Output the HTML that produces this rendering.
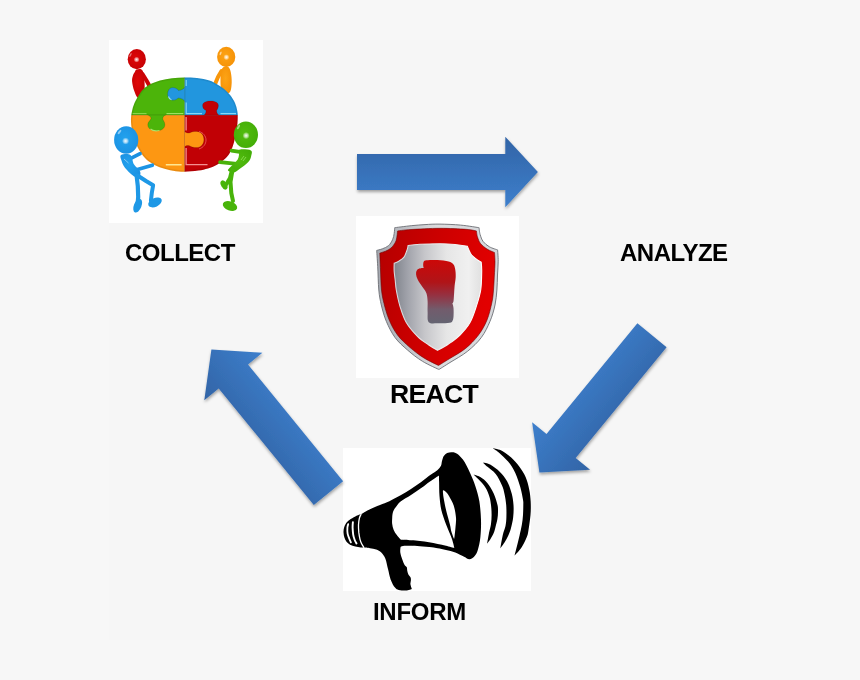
<!DOCTYPE html>
<html><head><meta charset="utf-8">
<style>
html,body{margin:0;padding:0;}
body{width:860px;height:680px;background:#f7f7f7;position:relative;overflow:hidden;font-family:"Liberation Sans",sans-serif;}
.box{position:absolute;background:#fff;}
.lbl{position:absolute;will-change:transform;font-weight:bold;color:#000;font-size:24px;line-height:1;white-space:nowrap;}
svg{position:absolute;left:0;top:0;}
</style></head><body>
<div style="position:absolute;left:109px;top:40px;width:641px;height:600px;background:#f6f6f6;"></div>
<div class="box" style="left:109px;top:40px;width:154px;height:183px;"></div>
<div class="box" style="left:356px;top:216px;width:163px;height:162px;"></div>
<div class="box" style="left:343px;top:448px;width:188px;height:143px;"></div>
<div class="lbl" style="left:125px;top:241px;letter-spacing:-0.5px;">COLLECT</div>
<div class="lbl" style="left:619.5px;top:241px;letter-spacing:-0.5px;">ANALYZE</div>
<div class="lbl" style="left:389.5px;top:380.5px;font-size:26.6px;letter-spacing:-0.7px;">REACT</div>
<div class="lbl" style="left:373px;top:600px;letter-spacing:-0.3px;">INFORM</div>
<svg width="860" height="680" viewBox="0 0 860 680">
<defs>
<filter id="sh" x="-20%" y="-20%" width="140%" height="140%"><feDropShadow dx="0.5" dy="2" stdDeviation="1.6" flood-color="#000" flood-opacity="0.35"/></filter>
<linearGradient id="g1" gradientUnits="userSpaceOnUse" x1="505.3" y1="136.7" x2="505.3" y2="207.3"><stop offset="0" stop-color="#3264a6"/><stop offset="1" stop-color="#3d7fcc"/></linearGradient>
<linearGradient id="g2" gradientUnits="userSpaceOnUse" x1="590.1" y1="469.8" x2="532.1" y2="422.2"><stop offset="0" stop-color="#3264a6"/><stop offset="1" stop-color="#3d7fcc"/></linearGradient>
<linearGradient id="g3" gradientUnits="userSpaceOnUse" x1="204.3" y1="400.2" x2="262.4" y2="352.8"><stop offset="0" stop-color="#3264a6"/><stop offset="1" stop-color="#3d7fcc"/></linearGradient>
</defs>
<polygon points="357.0,154.0 505.3,154.0 505.3,136.7 537.9,172.0 505.3,207.3 505.3,190.0 357.0,190.0" fill="url(#g1)" filter="url(#sh)"/>
<polygon points="666.6,347.2 575.7,458.0 590.1,469.8 539.4,472.5 532.1,422.2 546.5,434.0 637.4,323.2" fill="url(#g2)" filter="url(#sh)"/>
<polygon points="313.8,505.0 218.7,388.4 204.3,400.2 211.4,349.6 262.4,352.8 248.0,364.5 343.1,481.2" fill="url(#g3)" filter="url(#sh)"/>
<g id="mega">
<path d="M361.2,514.1C361.2,514.1 366.0,511.2 369.1,509.7C372.2,508.2 376.6,506.4 380.0,505.0C383.4,503.6 386.0,502.8 389.4,501.2C392.8,499.6 397.0,497.3 400.6,495.3C404.2,493.3 407.6,491.2 411.0,489.0C414.4,486.8 417.9,484.3 421.2,481.9C424.5,479.5 428.3,476.4 431.0,474.5C433.7,472.6 435.6,471.8 437.3,470.3C439.0,468.8 440.2,467.2 441.0,465.7C441.8,464.1 441.5,462.6 442.0,461.0C442.5,459.4 442.9,457.2 443.8,455.9C444.7,454.6 445.9,453.7 447.1,453.1C448.4,452.5 450.0,452.3 451.3,452.2C452.6,452.1 453.7,452.2 455.0,452.7C456.3,453.2 457.9,454.2 459.2,455.4C460.5,456.5 461.7,457.9 462.9,459.6C464.1,461.3 465.4,463.4 466.6,465.7C467.8,468.0 468.9,470.2 470.3,473.6C471.8,477.0 473.8,481.4 475.3,486.0C476.8,490.6 478.4,495.8 479.4,501.5C480.3,507.2 480.8,514.1 481.0,520.0C481.2,525.9 480.9,532.1 480.4,537.1C479.9,542.1 478.8,546.9 477.8,550.0C476.9,553.1 476.1,554.4 474.7,555.9C473.3,557.4 471.2,559.1 469.4,559.3C467.6,559.4 466.5,557.9 464.1,556.8C461.8,555.6 458.3,553.5 455.3,552.4C452.3,551.2 448.9,550.6 446.0,549.9C443.1,549.2 440.1,548.6 437.7,548.2C435.3,547.8 434.8,547.6 431.8,547.3C428.9,547.0 423.6,546.5 420.0,546.2C416.4,546.0 412.8,545.8 410.0,545.8C407.2,545.8 404.6,545.8 403.0,546.0C401.4,546.2 400.6,547.0 400.6,547.0C400.6,547.0 400.0,550.3 400.3,552.4C400.6,554.5 401.7,557.6 402.4,559.7C403.1,561.8 403.9,563.6 404.6,564.9C405.3,566.2 406.4,566.3 406.8,567.3C407.2,568.3 407.0,569.8 407.3,571.0C407.6,572.2 407.8,573.3 408.4,574.4C408.9,575.5 410.2,576.5 410.6,577.5C411.0,578.5 410.9,579.4 410.9,580.5C410.9,581.6 410.3,582.9 410.4,584.0C410.5,585.1 411.1,586.5 411.3,587.4C411.6,588.2 411.9,589.1 411.9,589.1C411.9,589.1 408.2,590.5 406.0,590.6C403.8,590.7 400.5,590.4 398.7,589.9C396.9,589.4 396.4,589.4 395.0,587.6C393.6,585.9 391.8,582.5 390.6,579.4C389.4,576.3 388.9,572.5 388.0,569.1C387.1,565.7 386.5,561.6 385.4,558.8C384.3,556.0 382.8,554.0 381.3,552.5C379.8,551.0 378.1,550.3 376.2,549.6C374.3,548.9 372.0,548.5 370.0,548.2C368.0,547.9 364.1,547.6 364.1,547.6C364.1,547.6 362.1,547.6 360.6,547.4C359.1,547.2 357.1,547.0 355.3,546.5C353.5,546.0 351.5,545.5 350.0,544.7C348.5,543.9 347.4,543.0 346.5,541.8C345.6,540.6 344.9,539.2 344.4,537.6C343.9,536.0 343.6,534.1 343.5,532.4C343.4,530.7 343.7,529.1 344.1,527.6C344.5,526.1 345.0,524.8 345.9,523.5C346.8,522.2 347.8,521.2 349.4,520.0C351.0,518.8 353.3,517.5 355.3,516.5C357.3,515.5 361.2,514.1 361.2,514.1Z" fill="#000"/>
<path d="M400.9,539.8C400.9,539.8 398.0,536.7 396.8,535.1C395.6,533.5 394.5,531.9 393.7,530.0C392.9,528.1 392.4,526.0 392.2,524.0C391.9,522.0 392.1,520.0 392.2,518.0C392.3,516.0 392.4,513.8 393.0,512.0C393.6,510.2 394.2,509.2 395.5,507.5C396.8,505.8 398.0,503.6 400.6,501.5C403.2,499.4 407.6,497.2 411.0,495.0C414.4,492.8 418.0,490.4 421.2,488.1C424.4,485.9 427.0,483.6 430.0,481.5C433.0,479.4 439.0,475.5 439.0,475.5C439.0,475.5 439.0,478.6 439.1,482.0C439.2,485.4 439.1,491.3 439.5,496.0C439.9,500.7 440.3,505.5 441.4,510.2C442.5,514.9 444.4,519.7 446.1,524.4C447.8,529.1 450.4,534.5 451.8,538.5C453.2,542.5 454.4,548.2 454.4,548.2C454.4,548.2 448.8,546.5 446.0,545.8C443.2,545.1 440.5,544.6 437.7,544.0C434.9,543.4 431.9,542.7 429.0,542.2C426.1,541.7 423.0,541.2 420.0,540.9C417.0,540.6 414.4,540.5 411.2,540.3C408.0,540.1 400.9,539.8 400.9,539.8Z" fill="#fff"/>
<path d="M443.3,490.3C443.9,490.2 445.6,491.5 446.5,492.5C447.4,493.5 447.8,493.9 449.0,496.1C450.2,498.3 452.5,501.9 453.7,505.5C454.9,509.1 455.7,514.2 456.0,517.8C456.3,521.4 455.7,524.2 455.5,527.2C455.3,530.2 454.8,534.0 454.6,536.0C454.4,538.0 454.1,539.0 454.1,539.0C454.1,539.0 452.2,534.4 451.5,532.0C450.8,529.6 450.8,528.0 449.9,524.4C449.0,520.8 447.1,514.4 446.1,510.2C445.1,506.0 444.3,501.9 443.8,499.0C443.3,496.1 443.1,494.4 443.0,493.0C442.9,491.6 442.7,490.4 443.3,490.3Z" fill="#fff"/>
<path d="M473.6,474.5C473.6,474.5 478.0,475.7 480.3,477.1C482.6,478.6 485.3,480.5 487.5,483.2C489.7,485.9 492.0,489.9 493.7,493.5C495.4,497.1 496.8,501.9 497.5,505.0C498.2,508.1 498.0,509.7 498.0,512.0C498.0,514.3 497.8,516.5 497.4,519.0C497.0,521.5 496.1,524.6 495.5,527.0C494.9,529.4 494.5,531.1 493.7,533.1C492.9,535.1 491.6,537.2 490.5,539.0C489.4,540.8 487.1,543.7 487.1,543.7C487.1,543.7 488.4,536.4 489.0,533.1C489.6,529.8 490.6,527.0 491.0,524.0C491.4,521.0 491.6,518.2 491.6,515.0C491.6,511.8 491.4,508.0 491.0,505.0C490.6,502.0 490.4,499.9 489.5,497.0C488.6,494.1 487.3,490.4 485.4,487.4C483.5,484.4 480.2,481.2 478.2,479.1C476.2,477.0 473.6,474.5 473.6,474.5Z" fill="#000"/>
<path d="M482.9,462.4C482.9,462.4 487.8,463.1 490.6,464.7C493.4,466.3 497.1,469.1 499.9,471.9C502.6,474.6 505.1,477.6 507.1,481.2C509.1,484.8 510.6,489.5 511.7,493.5C512.8,497.5 513.2,501.1 513.5,505.0C513.8,508.9 513.6,513.2 513.2,517.0C512.8,520.8 511.8,524.9 511.0,528.0C510.2,531.1 509.3,533.3 508.2,535.7C507.1,538.1 505.8,540.4 504.5,542.5C503.2,544.6 500.3,548.3 500.3,548.3C500.3,548.3 502.0,538.1 502.9,534.4C503.8,530.7 504.9,528.9 505.5,526.0C506.1,523.1 506.3,520.5 506.4,517.0C506.5,513.5 506.5,508.8 506.2,505.0C505.9,501.2 505.2,497.3 504.5,494.0C503.8,490.7 503.4,488.6 501.9,485.3C500.4,482.0 498.1,477.1 495.7,474.0C493.3,470.9 489.6,468.7 487.5,466.8C485.4,464.9 482.9,462.4 482.9,462.4Z" fill="#000"/>
<path d="M492.6,448.2C492.6,448.2 497.8,448.8 500.9,450.3C504.0,451.9 508.1,454.8 511.2,457.5C514.3,460.2 517.0,463.5 519.4,466.8C521.8,470.1 524.0,473.3 525.6,477.1C527.2,480.9 528.4,485.3 529.2,489.4C530.1,493.5 530.5,497.5 530.7,501.8C530.9,506.1 530.9,510.3 530.5,515.0C530.1,519.7 529.1,526.3 528.5,530.0C527.9,533.7 528.0,534.2 526.8,537.1C525.6,540.0 523.5,544.5 521.5,547.6C519.5,550.7 514.5,555.6 514.5,555.6C514.5,555.6 515.4,552.3 516.2,549.0C517.0,545.7 518.6,539.7 519.5,535.7C520.4,531.7 521.2,528.5 521.8,525.0C522.4,521.5 522.8,518.3 523.0,515.0C523.2,511.7 523.3,507.6 523.3,505.0C523.3,502.4 523.5,502.6 523.0,499.7C522.5,496.8 521.7,491.9 520.4,487.4C519.1,482.9 517.3,477.2 515.3,472.9C513.2,468.6 510.9,465.0 508.1,461.6C505.4,458.2 501.4,454.6 498.8,452.4C496.2,450.2 492.6,448.2 492.6,448.2Z" fill="#000"/>
<path d="M361.0,514.5C360.7,515.1 359.8,516.5 359.4,518.2C359.0,519.9 358.6,522.3 358.5,524.7C358.4,527.1 358.6,530.0 358.8,532.4C359.1,534.8 359.5,537.4 360.0,539.4C360.5,541.4 361.2,542.8 361.8,544.1C362.4,545.4 363.5,546.8 363.8,547.3" fill="none" stroke="#fff" stroke-width="1.3" stroke-linecap="round"/>
<path d="M348.2,524.1C348.1,524.7 347.5,526.0 347.4,527.6C347.3,529.2 347.3,531.7 347.6,533.5C347.9,535.3 348.6,536.7 349.1,538.2C349.7,539.7 350.6,541.7 350.9,542.4" fill="none" stroke="#fff" stroke-width="1.8" stroke-linecap="round"/>
<path d="M352.9,522.1C352.8,523.0 352.6,525.5 352.6,527.6C352.7,529.7 352.9,532.6 353.2,534.7C353.5,536.8 354.1,538.5 354.7,540.0C355.2,541.5 356.2,542.9 356.5,543.5" fill="none" stroke="#fff" stroke-width="1.9" stroke-linecap="round"/>
</g>
<g id="puzzle">
<defs>
<clipPath id="dclip"><path d="M184.5,77.5C188.7,77.5 192.8,77.5 197.0,78.0C201.2,78.5 206.1,79.5 209.4,80.5C212.7,81.5 214.4,82.7 217.0,84.2C219.6,85.7 222.4,87.5 224.7,89.4C226.9,91.3 228.8,93.2 230.5,95.5C232.2,97.8 233.9,100.4 235.0,103.0C236.1,105.6 236.9,108.3 237.3,111.0C237.8,113.7 237.8,116.2 237.7,119.0C237.6,121.8 237.4,124.8 237.0,128.0C236.6,131.2 235.8,134.8 235.0,138.0C234.2,141.2 233.6,144.2 232.5,147.0C231.4,149.8 230.1,152.8 228.5,155.0C226.9,157.2 225.0,158.8 223.0,160.5C221.0,162.2 219.0,163.7 216.5,165.0C214.0,166.3 211.0,167.6 208.0,168.5C205.0,169.4 202.3,170.0 198.3,170.6C194.3,171.2 188.4,171.8 184.2,171.8C180.0,171.8 176.7,171.4 173.0,170.8C169.3,170.2 165.3,169.1 162.0,168.0C158.7,166.9 155.8,165.7 153.0,164.0C150.2,162.3 147.6,160.8 145.0,158.0C142.4,155.2 139.5,150.8 137.5,147.0C135.5,143.2 134.1,139.2 133.0,135.0C131.9,130.8 131.2,125.8 131.0,122.0C130.8,118.2 131.2,115.2 131.8,112.0C132.4,108.8 133.3,105.8 134.5,103.0C135.7,100.2 137.4,97.5 138.8,95.3C140.2,93.0 141.2,91.3 143.0,89.5C144.8,87.7 146.6,86.2 149.4,84.7C152.2,83.2 156.2,81.6 160.0,80.5C163.8,79.4 167.9,78.7 172.0,78.2C176.1,77.7 180.3,77.5 184.5,77.5Z"/></clipPath>
<radialGradient id="pR" cx="0.45" cy="0.45" r="0.7"><stop offset="0" stop-color="#e00808"/><stop offset="1" stop-color="#c00004"/></radialGradient>
<radialGradient id="pO" cx="0.45" cy="0.45" r="0.7"><stop offset="0" stop-color="#fda416"/><stop offset="1" stop-color="#f48e04"/></radialGradient>
<radialGradient id="pB" cx="0.45" cy="0.45" r="0.7"><stop offset="0" stop-color="#22a2ee"/><stop offset="1" stop-color="#1a8ee0"/></radialGradient>
<radialGradient id="pG" cx="0.45" cy="0.45" r="0.7"><stop offset="0" stop-color="#52bc0e"/><stop offset="1" stop-color="#40aa06"/></radialGradient>
<radialGradient id="hl"><stop offset="0" stop-color="#fff" stop-opacity="0.95"/><stop offset="0.5" stop-color="#fff" stop-opacity="0.6"/><stop offset="1" stop-color="#fff" stop-opacity="0"/></radialGradient>
</defs>
<path d="M142.5,74 L146.5,80.5 L149.8,86.5" fill="none" stroke="#cc0406" stroke-width="4" stroke-linecap="round" stroke-linejoin="round"/>
<path d="M136.5,69.5C137.6,69.1 140.3,68.8 141.5,69.5C142.7,70.2 143.1,71.8 143.6,73.5C144.1,75.2 144.3,77.2 144.4,80.0C144.5,82.8 145.0,87.2 144.4,90.0C143.8,92.8 142.2,95.8 141.0,97.0C139.8,98.2 138.6,98.6 137.4,97.5C136.2,96.4 134.9,93.0 134.0,90.3C133.1,87.6 132.3,83.8 132.1,81.4C131.9,79.0 132.4,77.3 132.9,75.7C133.4,74.1 134.2,73.0 134.8,72.0C135.4,71.0 135.4,69.9 136.5,69.5Z" fill="url(#pR)"/>
<ellipse cx="136.8" cy="59.2" rx="9.1" ry="10.1" fill="url(#pR)"/>
<circle cx="136.6" cy="59.6" r="3" fill="url(#hl)"/>
<ellipse cx="130.5" cy="55" rx="0.8" ry="2.2" fill="#fff" opacity="0.45" transform="rotate(25 130.5 55)"/>
<path d="M221.5,71 L218,77 L215.5,83" fill="none" stroke="#f8960a" stroke-width="4" stroke-linecap="round" stroke-linejoin="round"/>
<path d="M223.6,67.0C224.8,66.3 227.2,66.0 228.4,67.0C229.6,68.0 230.4,70.1 230.9,72.7C231.4,75.3 231.8,79.2 231.7,82.4C231.5,85.6 231.3,90.2 230.0,92.0C228.7,93.8 225.5,93.7 224.0,93.0C222.5,92.3 221.6,90.5 221.0,88.0C220.4,85.5 220.5,80.8 220.5,78.0C220.5,75.2 220.7,72.8 221.2,71.0C221.7,69.2 222.4,67.7 223.6,67.0Z" fill="url(#pO)"/>
<ellipse cx="226.2" cy="56.9" rx="9.1" ry="10.1" fill="url(#pO)"/>
<circle cx="226.4" cy="57.2" r="3" fill="url(#hl)"/>
<ellipse cx="220.6" cy="53.3" rx="0.8" ry="2" fill="#fff" opacity="0.6" transform="rotate(20 220.6 53.3)"/>
<g clip-path="url(#dclip)">
<rect x="125" y="70" width="59.69999999999999" height="45.099999999999994" fill="#4cb40a"/>
<rect x="184.7" y="70" width="65.30000000000001" height="45.099999999999994" fill="#2296de"/>
<rect x="125" y="115.1" width="59.69999999999999" height="69.9" fill="#fd9712"/>
<rect x="184.7" y="115.1" width="65.30000000000001" height="69.9" fill="#c10005"/>
<path d="M184.9,86.5 C184.5,89 181,90.3 178.5,90.5 C177,88.5 175,87.6 172.6,87.6 C169.5,87.6 167.6,91 167.6,94.2 C167.6,97.5 169.8,100.2 172.8,100.2 C175,100.2 177,99.3 178.2,97.9 C181,98.2 184.5,99.5 184.9,102 Z" fill="#2296de"/>
<path d="M203.5,115.3 C205.5,114.5 206,112.5 206,110.5 C203.5,109.5 202.6,107.5 202.6,105.5 C202.6,102.5 206,101 210.5,101 C215,101 218.4,102.5 218.4,105.5 C218.4,107.5 217.5,109.5 216.6,110.5 C216.6,112.5 217.5,114.5 219.3,115.3 Z" fill="#c10005"/>
<path d="M147.2,114.9 C149.5,115.5 151,116.5 151,118.6 C151,120 147.8,121.5 147.8,124.8 C147.8,128.5 151.5,130.9 156.3,130.9 C161.1,130.9 164.9,128.5 164.9,124.8 C164.9,121.5 162.5,120 162.8,118.6 C163,116.5 164,115.5 166.3,114.9 Z" fill="#4cb40a"/>
<path d="M184.5,131.5 C186.5,133 188.5,133.5 190,132.8 C191.5,131.8 193.5,131.4 196.5,131.4 C201,131.4 203.9,135 203.9,139.5 C203.9,144 201,147.6 196.5,147.6 C193.5,147.6 191.2,147 189.5,145.8 C187.5,145.3 186,145.5 184.5,147 Z" fill="#fd9712"/>
<path d="M184.7,77 L184.7,86.5 M184.7,102 L184.7,131.5 M184.7,147 L184.7,173 M130,115.1 L147.2,115.1 M166.3,115.1 L203.5,115.1 M219.3,115.1 L240,115.1" stroke="#000" stroke-opacity="0.25" stroke-width="0.8" fill="none"/>
<path d="M184.9,86.5 C184.5,89 181,90.3 178.5,90.5 C177,88.5 175,87.6 172.6,87.6 C169.5,87.6 167.6,91 167.6,94.2 C167.6,97.5 169.8,100.2 172.8,100.2 C175,100.2 177,99.3 178.2,97.9 C181,98.2 184.5,99.5 184.9,102 Z" stroke="#000" stroke-opacity="0.2" stroke-width="0.7" fill="none"/>
<path d="M203.5,115.3 C205.5,114.5 206,112.5 206,110.5 C203.5,109.5 202.6,107.5 202.6,105.5 C202.6,102.5 206,101 210.5,101 C215,101 218.4,102.5 218.4,105.5 C218.4,107.5 217.5,109.5 216.6,110.5 C216.6,112.5 217.5,114.5 219.3,115.3 Z" stroke="#000" stroke-opacity="0.2" stroke-width="0.7" fill="none"/>
<path d="M147.2,114.9 C149.5,115.5 151,116.5 151,118.6 C151,120 147.8,121.5 147.8,124.8 C147.8,128.5 151.5,130.9 156.3,130.9 C161.1,130.9 164.9,128.5 164.9,124.8 C164.9,121.5 162.5,120 162.8,118.6 C163,116.5 164,115.5 166.3,114.9 Z" stroke="#000" stroke-opacity="0.2" stroke-width="0.7" fill="none"/>
<path d="M184.5,131.5 C186.5,133 188.5,133.5 190,132.8 C191.5,131.8 193.5,131.4 196.5,131.4 C201,131.4 203.9,135 203.9,139.5 C203.9,144 201,147.6 196.5,147.6 C193.5,147.6 191.2,147 189.5,145.8 C187.5,145.3 186,145.5 184.5,147 Z" stroke="#000" stroke-opacity="0.2" stroke-width="0.7" fill="none"/>
<path d="M166.5,113.6 L183.3,113.6" stroke="#b8f080" stroke-width="1.1" opacity="0.8"/>
<path d="M132.5,113.6 L146.5,113.6" stroke="#b8f080" stroke-width="1.1" opacity="0.6"/>
<path d="M186.2,80 L186.2,86 M186.2,102.5 L186.2,113.6 L202,113.6 M220.5,113.6 L236,113.6" stroke="#a8ecff" stroke-width="1.1" opacity="0.75" fill="none"/>
<path d="M186.1,117 L186.1,130.5 M186.1,148 L186.1,164.7 L207.5,164.7" fill="none" stroke="#ffb4b4" stroke-width="1.3" opacity="0.8"/>
<path d="M165.8,164.7 L181.6,164.7" fill="none" stroke="#fff0a0" stroke-width="1.5" opacity="0.9"/>
<path d="M199,131.5 C203,132.5 206,136 206,140 C206,144 203.5,147.5 199,149" fill="none" stroke="#ff9090" stroke-width="0.9" opacity="0.6"/>
<path d="M150.5,129 C152.5,130.8 156,131.2 159.5,130.5" fill="none" stroke="#c8ff90" stroke-width="1.1" opacity="0.7"/>
<path d="M168.5,96.5 C169,98.5 170,99.5 171.5,99.8" fill="none" stroke="#b0f4ff" stroke-width="1.1" opacity="0.8"/>
<path d="M184.5,77.5C188.7,77.5 192.8,77.5 197.0,78.0C201.2,78.5 206.1,79.5 209.4,80.5C212.7,81.5 214.4,82.7 217.0,84.2C219.6,85.7 222.4,87.5 224.7,89.4C226.9,91.3 228.8,93.2 230.5,95.5C232.2,97.8 233.9,100.4 235.0,103.0C236.1,105.6 236.9,108.3 237.3,111.0C237.8,113.7 237.8,116.2 237.7,119.0C237.6,121.8 237.4,124.8 237.0,128.0C236.6,131.2 235.8,134.8 235.0,138.0C234.2,141.2 233.6,144.2 232.5,147.0C231.4,149.8 230.1,152.8 228.5,155.0C226.9,157.2 225.0,158.8 223.0,160.5C221.0,162.2 219.0,163.7 216.5,165.0C214.0,166.3 211.0,167.6 208.0,168.5C205.0,169.4 202.3,170.0 198.3,170.6C194.3,171.2 188.4,171.8 184.2,171.8C180.0,171.8 176.7,171.4 173.0,170.8C169.3,170.2 165.3,169.1 162.0,168.0C158.7,166.9 155.8,165.7 153.0,164.0C150.2,162.3 147.6,160.8 145.0,158.0C142.4,155.2 139.5,150.8 137.5,147.0C135.5,143.2 134.1,139.2 133.0,135.0C131.9,130.8 131.2,125.8 131.0,122.0C130.8,118.2 131.2,115.2 131.8,112.0C132.4,108.8 133.3,105.8 134.5,103.0C135.7,100.2 137.4,97.5 138.8,95.3C140.2,93.0 141.2,91.3 143.0,89.5C144.8,87.7 146.6,86.2 149.4,84.7C152.2,83.2 156.2,81.6 160.0,80.5C163.8,79.4 167.9,78.7 172.0,78.2C176.1,77.7 180.3,77.5 184.5,77.5Z" fill="none" stroke="#000" stroke-opacity="0.08" stroke-width="3"/>
</g>
<path d="M131.3,158.2 L140.1,153.7" stroke="#1c90e0" stroke-width="3.6" stroke-linecap="round"/>
<path d="M137.5,169.6 L152.4,165.2" stroke="#1c94e4" stroke-width="3.6" stroke-linecap="round"/>
<path d="M121.1,155.0C122.6,154.2 128.3,153.4 130.4,155.0C132.5,156.6 132.3,161.6 133.9,164.3C135.5,167.0 139.2,169.4 140.1,171.4C141.0,173.4 140.1,175.6 139.2,176.5C138.3,177.4 137.2,178.1 134.8,176.7C132.5,175.3 127.3,170.7 125.1,167.9C122.8,165.1 122.0,162.2 121.3,160.0C120.6,157.8 119.6,155.8 121.1,155.0Z" fill="url(#pB)"/>
<path d="M136.6,175.5 L137.8,186 L138.2,197 L137.5,205" fill="none" stroke="#1e98e6" stroke-width="4.2" stroke-linecap="round" stroke-linejoin="round"/>
<path d="M137.5,175.5 L146,181 L153.1,185.3 L151.8,193 L150.9,200.8" fill="none" stroke="#1e98e6" stroke-width="4" stroke-linecap="round" stroke-linejoin="round"/>
<ellipse cx="137.7" cy="205.7" rx="3.8" ry="7.2" fill="#1e98e6" transform="rotate(22 137.7 205.7)"/>
<ellipse cx="155" cy="202.4" rx="7.2" ry="4.4" fill="#1e98e6" transform="rotate(-25 155 202.4)"/>
<ellipse cx="126.2" cy="140" rx="12.1" ry="13.7" fill="url(#pB)"/>
<circle cx="125.6" cy="141" r="3.6" fill="url(#hl)"/>
<ellipse cx="119.5" cy="132" rx="1" ry="2.6" fill="#fff" opacity="0.5" transform="rotate(40 119.5 132)"/>
<path d="M124,159 L128.5,163" stroke="#fff" stroke-opacity="0.5" stroke-width="0.9"/>
<path d="M243,152.4 L231.5,150.6" stroke="#48b20a" stroke-width="3.8" stroke-linecap="round"/>
<path d="M236.8,163.9 L220.1,162.1" stroke="#48b20a" stroke-width="3.8" stroke-linecap="round"/>
<path d="M240.3,149.5C242.2,149.2 249.1,149.4 250.9,150.5C252.7,151.6 251.6,154.1 251.2,156.0C250.8,157.9 250.2,159.9 248.3,162.1C246.4,164.3 241.9,167.4 239.5,169.1C237.1,170.8 235.8,172.2 234.0,172.5C232.2,172.8 229.3,171.7 228.5,171.0C227.7,170.3 227.5,170.4 229.0,168.5C230.5,166.6 236.0,162.2 237.7,159.4C239.4,156.7 238.8,153.7 239.2,152.0C239.6,150.3 238.4,149.8 240.3,149.5Z" fill="url(#pG)"/>
<path d="M232,170 L230,178 L226.5,184" fill="none" stroke="#48b40a" stroke-width="4" stroke-linecap="round" stroke-linejoin="round"/>
<ellipse cx="224" cy="185" rx="2.8" ry="5" fill="#48b40a" transform="rotate(-30 224 185)"/>
<path d="M232.5,170 L230.5,182 L231.3,193 L233,201" fill="none" stroke="#48b40a" stroke-width="4" stroke-linecap="round" stroke-linejoin="round"/>
<ellipse cx="230" cy="206" rx="7.5" ry="4.6" fill="#48b40a" transform="rotate(20 230 206)"/>
<ellipse cx="245.9" cy="134.8" rx="12.1" ry="13.2" fill="url(#pG)"/>
<circle cx="246.1" cy="135.6" r="3.6" fill="url(#hl)"/>
<ellipse cx="238.5" cy="127" rx="1" ry="2.6" fill="#fff" opacity="0.5" transform="rotate(30 238.5 127)"/>
<path d="M244,156 L241,160 M246,157 L243,161" stroke="#c0ff90" stroke-opacity="0.6" stroke-width="0.8"/>
</g>
<g id="shield">
<defs>
<linearGradient id="shO" x1="0" y1="0" x2="1" y2="0"><stop offset="0" stop-color="#a4a8b0"/><stop offset="0.5" stop-color="#dcdcde"/><stop offset="1" stop-color="#d4d6da"/></linearGradient>
<linearGradient id="shR" x1="0" y1="0" x2="1" y2="0.25"><stop offset="0" stop-color="#b40000"/><stop offset="0.5" stop-color="#cc0000"/><stop offset="1" stop-color="#e20000"/></linearGradient>
<linearGradient id="shP" x1="0" y1="0" x2="1" y2="0"><stop offset="0" stop-color="#80848c"/><stop offset="0.15" stop-color="#a0a2aa"/><stop offset="0.35" stop-color="#c6c6ca"/><stop offset="0.6" stop-color="#e6e6e6"/><stop offset="0.85" stop-color="#f0f0f0"/><stop offset="1" stop-color="#e0e0e0"/></linearGradient>
<linearGradient id="shPs" x1="0" y1="0" x2="1" y2="0"><stop offset="0" stop-color="#d4d8dc"/><stop offset="0.4" stop-color="#e8e8ea"/><stop offset="1" stop-color="#ffffff"/></linearGradient>
<linearGradient id="shG" x1="0" y1="0" x2="0" y2="1"><stop offset="0" stop-color="#cc0808"/><stop offset="0.35" stop-color="#b01418"/><stop offset="0.55" stop-color="#963040"/><stop offset="0.78" stop-color="#725c6c"/><stop offset="1" stop-color="#646472"/></linearGradient>
</defs>
<path d="M394.7,227.7C394.7,227.7 406.1,226.2 411.2,225.7C416.2,225.2 420.2,224.9 425.0,224.6C429.8,224.3 434.1,224.0 440.0,224.1C445.9,224.2 454.1,224.5 460.6,225.1C467.1,225.7 479.1,227.7 479.1,227.7C479.1,227.7 479.4,232.1 480.1,234.4C480.8,236.7 481.6,239.5 483.2,241.6C484.8,243.7 487.0,245.4 489.4,246.8C491.8,248.2 497.6,249.9 497.6,249.9C497.6,249.9 498.2,257.0 498.2,261.2C498.2,265.4 497.7,270.2 497.5,275.0C497.3,279.8 497.3,285.0 496.9,290.0C496.5,295.0 496.1,299.8 495.0,305.0C493.9,310.2 492.3,315.9 490.0,321.3C487.7,326.7 485.1,332.5 481.3,337.5C477.6,342.5 472.7,347.1 467.5,351.3C462.3,355.5 454.8,359.5 450.0,362.5C445.2,365.5 439.0,369.5 439.0,369.5C439.0,369.5 427.8,364.6 422.5,361.3C417.2,358.1 412.1,354.0 407.5,350.0C402.9,346.0 398.5,342.3 395.0,337.5C391.5,332.7 388.6,326.7 386.3,321.3C384.0,315.9 382.6,310.2 381.3,305.0C380.1,299.8 379.4,296.4 378.8,290.0C378.2,283.6 378.1,272.9 377.7,266.3C377.3,259.7 376.7,250.4 376.7,250.4C376.7,250.4 380.4,249.6 382.4,248.8C384.4,248.0 386.8,247.2 388.5,245.7C390.2,244.2 391.7,241.6 392.6,239.6C393.6,237.6 393.9,235.4 394.2,233.4C394.5,231.4 394.7,227.7 394.7,227.7Z" fill="url(#shO)" stroke="#6c6e74" stroke-width="0.9"/>
<path d="M397.5,231.0C397.5,231.0 403.9,229.9 411.0,229.5C418.1,229.1 430.8,228.3 440.0,228.3C449.2,228.3 459.9,228.9 466.0,229.3C472.1,229.8 476.5,231.0 476.5,231.0C476.5,231.0 476.8,234.9 477.5,237.0C478.2,239.1 478.9,241.5 480.5,243.5C482.1,245.5 484.7,247.5 487.0,249.0C489.3,250.5 494.5,252.5 494.5,252.5C494.5,252.5 495.0,258.1 495.0,262.0C495.0,265.9 494.6,271.3 494.3,276.0C494.1,280.7 493.9,285.6 493.5,290.0C493.1,294.4 493.0,297.5 491.9,302.5C490.8,307.5 489.2,314.6 487.0,320.0C484.8,325.4 482.1,330.2 478.5,335.0C474.9,339.8 470.4,344.5 465.5,348.5C460.6,352.5 453.5,356.2 449.0,359.0C444.5,361.8 438.5,365.5 438.5,365.5C438.5,365.5 428.8,361.0 424.0,358.0C419.2,355.0 414.4,351.3 410.0,347.5C405.6,343.7 401.0,339.7 397.5,335.0C394.0,330.3 391.2,324.8 389.0,319.5C386.8,314.2 385.2,308.4 384.0,303.5C382.8,298.6 382.1,295.6 381.5,290.0C380.9,284.4 380.8,276.2 380.5,270.0C380.2,263.8 379.8,253.0 379.8,253.0C379.8,253.0 383.6,252.0 385.5,251.2C387.4,250.4 389.3,249.5 391.0,248.0C392.7,246.5 394.5,244.0 395.5,242.0C396.5,240.0 396.7,237.8 397.0,236.0C397.3,234.2 397.5,231.0 397.5,231.0Z" fill="url(#shR)" stroke="#700000" stroke-width="0.6"/>
<path d="M408.1,245.5C408.1,245.5 414.7,244.6 420.0,244.3C425.3,244.0 434.2,243.8 440.0,243.8C445.8,243.8 450.4,244.1 455.0,244.5C459.6,244.9 467.3,246.3 467.3,246.3C467.3,246.3 469.6,252.0 470.9,254.0C472.2,256.0 473.3,256.7 475.0,258.1C476.7,259.5 481.2,262.2 481.2,262.2C481.2,262.2 481.8,266.9 481.7,271.5C481.6,276.1 481.6,284.2 480.7,290.0C479.8,295.8 478.1,300.9 476.3,306.3C474.5,311.7 472.7,317.7 470.0,322.5C467.3,327.3 463.5,331.4 460.0,335.0C456.5,338.6 452.6,341.2 448.8,343.8C445.1,346.4 437.5,350.3 437.5,350.3C437.5,350.3 432.1,347.3 428.8,345.0C425.5,342.7 421.2,340.1 417.5,336.3C413.8,332.6 409.2,327.5 406.3,322.5C403.4,317.5 401.7,311.7 400.0,306.3C398.3,300.9 397.1,294.4 396.3,290.0C395.5,285.6 395.6,283.1 395.2,280.0C394.8,276.9 394.4,274.3 394.2,271.5C394.0,268.7 394.2,263.2 394.2,263.2C394.2,263.2 397.2,262.2 398.8,261.2C400.4,260.2 402.6,259.0 404.0,257.1C405.4,255.2 406.4,251.8 407.1,249.9C407.8,248.0 408.1,245.5 408.1,245.5Z" fill="url(#shP)" stroke="url(#shPs)" stroke-width="1.1"/>
<path d="M423.8,261.6C424.4,260.7 424.2,260.6 426.5,260.3C428.8,260.0 433.9,259.8 437.6,260.0C441.3,260.2 446.0,260.9 448.6,261.6C451.2,262.3 452.4,263.1 453.5,264.4C454.6,265.7 454.8,267.2 455.2,269.3C455.6,271.4 455.8,274.2 455.7,277.0C455.6,279.8 454.9,283.1 454.6,285.9C454.3,288.7 454.3,291.0 454.1,293.6C453.9,296.2 453.8,299.7 453.5,301.3C453.2,302.9 452.4,303.5 452.4,303.5C452.4,303.5 453.3,305.7 453.5,307.9C453.7,310.1 453.7,314.5 453.5,316.7C453.3,318.9 453.0,320.1 452.4,321.1C451.8,322.1 452.2,322.4 449.7,322.8C447.2,323.2 441.1,323.4 437.6,323.3C434.1,323.2 430.4,324.0 428.7,322.2C427.0,320.4 427.8,315.8 427.6,312.3C427.4,308.8 427.8,304.4 427.6,301.3C427.4,298.2 427.2,295.8 426.5,293.6C425.8,291.4 424.4,289.9 423.2,288.1C422.0,286.3 420.5,284.5 419.4,282.6C418.3,280.8 417.2,278.7 416.6,277.0C416.1,275.3 415.9,273.9 416.1,272.6C416.3,271.3 416.9,270.0 417.7,269.3C418.5,268.6 420.0,268.4 421.0,268.2C422.0,268.0 423.8,268.2 423.8,268.2C423.8,268.2 423.2,266.6 423.2,265.5C423.2,264.4 423.2,262.5 423.8,261.6Z" fill="url(#shG)"/>
</g>
</svg>
</body></html>
